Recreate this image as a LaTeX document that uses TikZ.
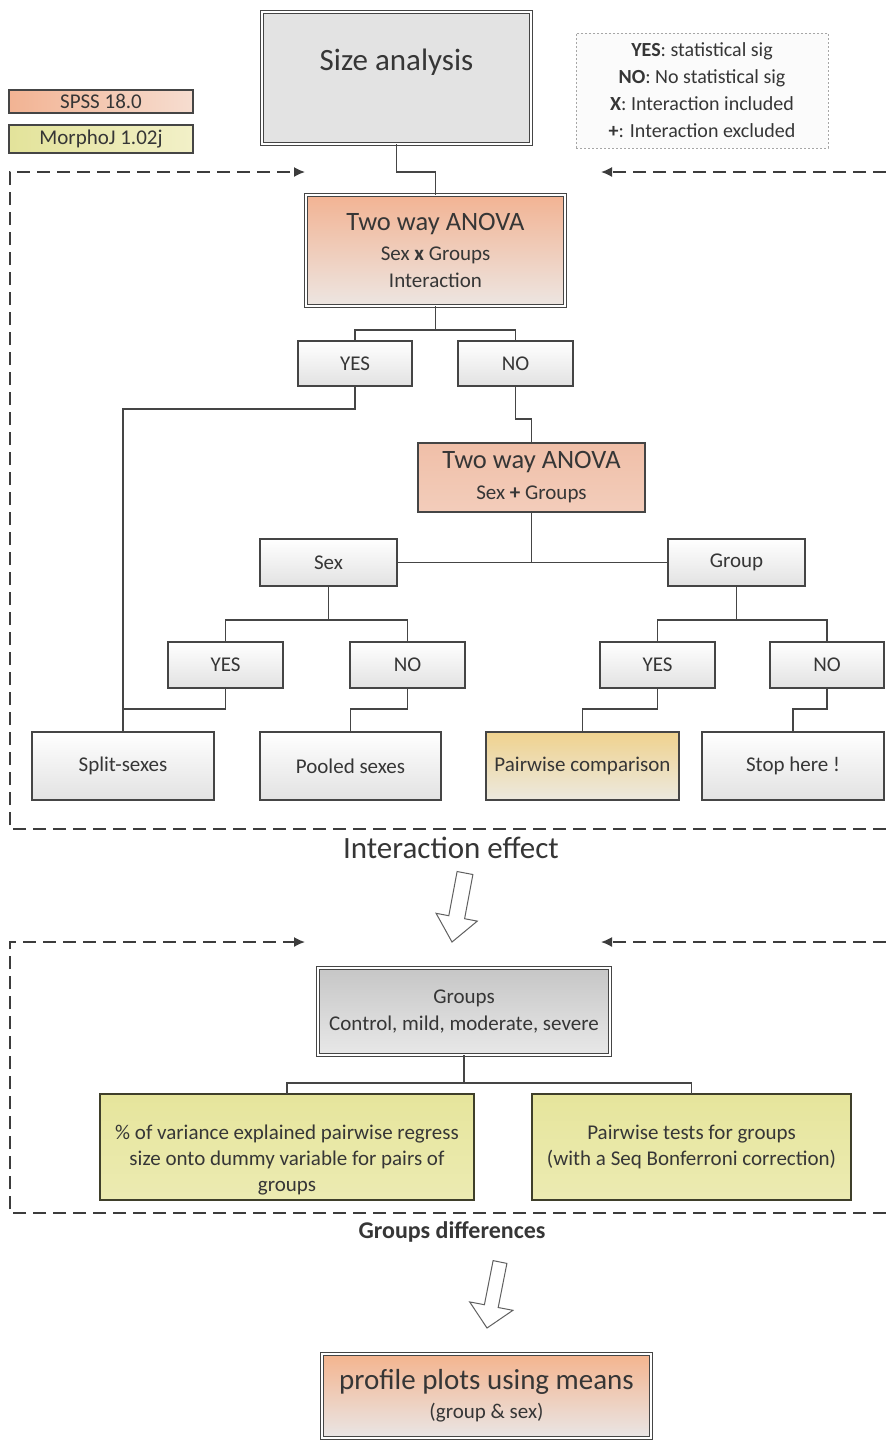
\documentclass[tikz,border=0pt]{standalone}
\usepackage{fontspec}
\setmainfont{Carlito}
\usetikzlibrary{arrows.meta}
\definecolor{linec}{HTML}{454545}
\definecolor{framec}{HTML}{3C3C3C}
\definecolor{txt}{HTML}{363636}
\definecolor{salmon}{HTML}{F2B393}
\definecolor{salmonlight}{HTML}{EDE6E2}
\definecolor{salmonB}{HTML}{F0BFA8}
\definecolor{salmonC}{HTML}{F3CDBB}
\definecolor{spssR}{HTML}{F6DDD0}
\definecolor{morphL}{HTML}{E3E39A}
\definecolor{morphR}{HTML}{F2F0C8}
\definecolor{boxbot}{HTML}{E2E2E2}
\definecolor{yelT}{HTML}{E6E59C}
\definecolor{yelB}{HTML}{ECEBB2}
\definecolor{yeldraw}{HTML}{3F3F2A}
\definecolor{goldT}{HTML}{EFD28E}
\definecolor{goldB}{HTML}{ECE9DF}
\definecolor{sizegray}{HTML}{E3E3E3}
\definecolor{grpT}{HTML}{C6C6C6}
\definecolor{grpB}{HTML}{E8E8E8}
\definecolor{profT}{HTML}{F4B48E}
\definecolor{profB}{HTML}{E9E6E6}
\definecolor{keyfill}{HTML}{FBFBFB}
\newcommand\bnode[7]{\node[#1, minimum width={#4-#2}, minimum height={#5-#3}] (#6) at ({(#2+#4)/2},{(#3+#5)/2}) {#7};}
\begin{document}
\begin{tikzpicture}[x=1pt,y=-1pt,
  every node/.style={text=txt, inner sep=0pt, outer sep=0pt, font=\fontsize{21}{27}\selectfont},
  plain/.style={draw=linec, line width=1.4pt, top color=white, bottom color=boxbot},
  dbl/.style={draw=linec, line width=1.1pt, double=white, double distance=2.2pt},
  salmonbox/.style={draw=linec, line width=1.4pt, top color=salmonB, bottom color=salmonC},
  goldbox/.style={draw=linec, line width=1.4pt, top color=goldT, bottom color=goldB},
  yelbox/.style={draw=yeldraw, line width=1.4pt, top color=yelT, bottom color=yelB},
  spssbox/.style={draw=linec, line width=1.3pt, left color=salmon, right color=spssR},
  morphbox/.style={draw=linec, line width=1.3pt, left color=morphL, right color=morphR},
  keybox/.style={draw=gray!70, line width=1pt, dash pattern=on 2pt off 2pt, fill=keyfill, align=center, font=\fontsize{20}{27}\selectfont},
  conn/.style={draw=linec, line width=1.4pt},
  frame/.style={draw=framec, line width=1.6pt, dash pattern=on 13pt off 7pt},
  framearrow/.style={frame, -{Latex[length=11pt,width=10pt]}},
  blockarrow/.style={draw=gray!75!black, fill=white, line width=1pt, line join=miter},
]
\useasboundingbox (0,0) rectangle (886,1441);
\fill[white] (0,0) rectangle (886,1441);

% top
\bnode{dbl, fill=sizegray, font=\fontsize{31}{36}\selectfont, text height=23pt, text depth=39pt}{262}{12}{531}{144}{size}{Size analysis}
\bnode{spssbox}{9}{90}{193}{113}{spss}{SPSS 18.0}
\bnode{morphbox}{9}{125}{193}{153}{morph}{MorphoJ 1.02j}
\bnode{keybox}{576}{33}{828}{148}{key}{\textbf{YES}: statistical sig\\ \textbf{NO}: No statistical sig\\ \textbf{X}: Interaction included\\ \textbf{+}: Interaction excluded}

% frame 1
\coordinate (f1a) at (305,172);
\coordinate (f1tl) at (10,172);
\coordinate (f1bl) at (10,829);
\coordinate (f1br) at (886,829);
\coordinate (f1r) at (886,172);
\coordinate (f1b) at (601,172);
\draw[framearrow] (f1br) -- (f1bl) -- (f1tl) -- (f1a);
\draw[framearrow] (f1r) -- (f1b);

\bnode{dbl, top color=salmon, bottom color=salmonlight, align=center}{306}{195}{565}{306}{anova1}{{\fontsize{26.5}{30}\selectfont Two way ANOVA}\\[3pt] Sex \textbf{x} Groups\\ Interaction}
\bnode{plain}{298}{341}{412}{386}{yes1}{YES}
\bnode{plain}{458}{341}{573}{386}{no1}{NO}
\bnode{salmonbox, align=center}{418}{443}{645}{512}{anova2}{{\fontsize{26.5}{30}\selectfont Two way ANOVA}\\[4pt] Sex \textbf{+} Groups}
\bnode{plain}{260}{539}{397}{586}{sex}{Sex}
\bnode{plain}{668}{539}{805}{586}{group}{Group}
\bnode{plain}{168}{642}{283}{688}{yes2}{YES}
\bnode{plain}{350}{642}{465}{688}{no2}{NO}
\bnode{plain}{600}{642}{715}{688}{yes3}{YES}
\bnode{plain}{770}{642}{884}{688}{no3}{NO}
\bnode{plain}{32}{732}{214}{800}{split}{Split-sexes}
\bnode{plain}{260}{732}{441}{800}{pooled}{Pooled sexes}
\bnode{goldbox}{486}{732}{679}{800}{pairc}{Pairwise comparison}
\bnode{plain}{702}{732}{884}{800}{stop}{Stop here !}

\draw[conn] (size.south) -- ++(0,28) -| (anova1.north);
\draw[conn] (anova1.south) -- ++(0,24) coordinate (j1);
\draw[conn] (yes1.north) |- (j1) -| (no1.north);
\draw[conn] (yes1.south) -- ++(0,23) -| (split.north);
\draw[conn] (no1.south) -- ++(0,33) -| (anova2.north);
\draw[conn] (anova2.south) -- (anova2.south |- sex.east);
\draw[conn] (sex.east) -- (group.west);
\draw[conn] (sex.south) -- ++(0,34) coordinate (j3);
\draw[conn] (yes2.north) |- (j3) -| (no2.north);
\draw[conn] (group.south) -- ++(0,34) coordinate (j4);
\draw[conn] (yes3.north) |- (j4) -| (no3.north);
\draw[conn] (yes2.south) -- ++(0,21) -| (split.north);
\draw[conn] (no2.south) -- ++(0,21) -| (pooled.north);
\draw[conn] (yes3.south) -- ++(0,21) -| (pairc.north);
\draw[conn] (no3.south) -- ++(0,21) -| (stop.north);

\node[font=\fontsize{31}{36}\selectfont] (inter) at (451,848) {Interaction effect};

% block arrow 1
\draw[blockarrow] (457.1,871.5) -- (472.9,874.5) -- (464.6,918.7) -- (477.3,921.1) -- (452,942) -- (436.1,913.3) -- (448.8,915.7) -- cycle;

% frame 2
\coordinate (f2a) at (305,942);
\coordinate (f2tl) at (10,942);
\coordinate (f2bl) at (10,1213);
\coordinate (f2br) at (886,1213);
\coordinate (f2r) at (886,942);
\coordinate (f2b) at (601,942);
\draw[framearrow] (f2br) -- (f2bl) -- (f2tl) -- (f2a);
\draw[framearrow] (f2r) -- (f2b);

\bnode{dbl, top color=grpT, bottom color=grpB, align=center}{318}{968}{610}{1055}{groups}{Groups\\ Control, mild, moderate, severe}
\bnode{yelbox, align=center, font=\fontsize{21}{26}\selectfont}{100}{1094}{474}{1200}{var}{\rule{0pt}{41pt}\% of variance explained pairwise regress\\ size onto dummy variable for pairs of\\ groups}
\bnode{yelbox, align=center, font=\fontsize{21}{26}\selectfont}{532}{1094}{851}{1200}{pw}{Pairwise tests for groups\\ (with a Seq Bonferroni correction)}
\draw[conn] (groups.south) -- ++(0,28) coordinate (j5);
\draw[conn] (var.north) |- (j5) -| (pw.north);

\node[font=\bfseries\fontsize{24}{28}\selectfont] (gdiff) at (452,1232) {Groups differences};

% block arrow 2
\draw[blockarrow] (493.1,1260.6) -- (506.9,1263.4) -- (498.2,1307.5) -- (512.9,1310.3) -- (487,1328) -- (469.7,1301.9) -- (484.4,1304.7) -- cycle;

\bnode{dbl, top color=profT, bottom color=profB, align=center}{322}{1354}{651}{1438}{profile}{{\fontsize{29}{32}\selectfont profile plots using means}\\[2pt] (group \& sex)}
\end{tikzpicture}
\end{document}
